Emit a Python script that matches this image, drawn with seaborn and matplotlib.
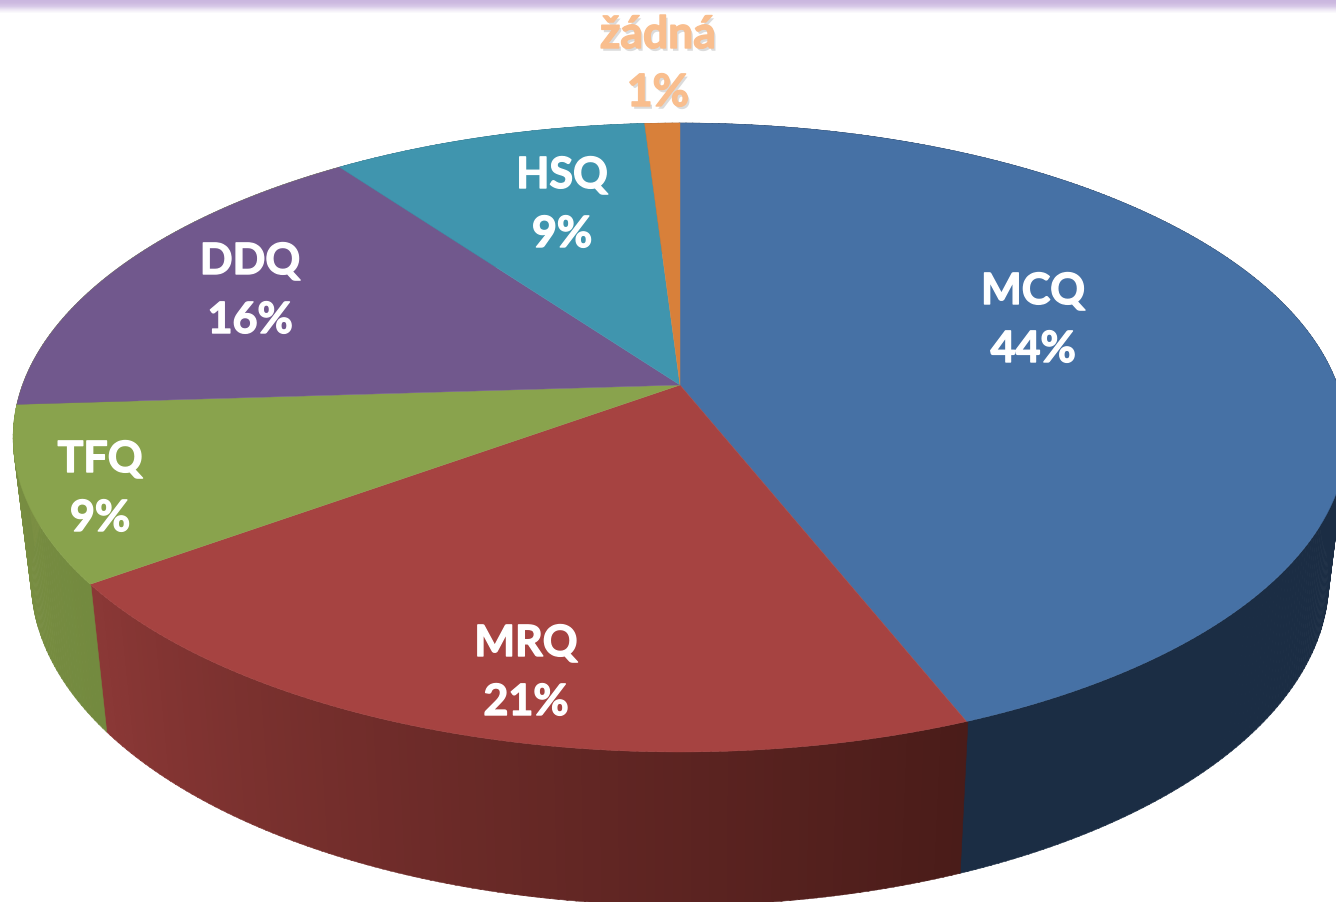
import numpy as np
import matplotlib
matplotlib.use("Agg")
import matplotlib.pyplot as plt
import matplotlib.patheffects as pe
from matplotlib.path import Path
from matplotlib.transforms import Transform, Affine2D
import seaborn as sns

# data
categories = ["MCQ", "MRQ", "TFQ", "DDQ", "HSQ", "žádná"]
values = [44, 21, 9, 16, 9, 1]

# styling
top_hex = ["#4671A5", "#A64341", "#89A34D", "#71588D", "#4095AE", "#D8803A"]
side_left_hex = ["#1B2D44", "#8B3836", "#7B8F43", "#7B8F43", "#2A6274", "#8E5426"]
side_right_hex = ["#1B2D44", "#4A1C19", "#738A3F", "#7B8F43", "#2A6274", "#8E5426"]
label_pos = [(1033, 289, 347), (526, 641, 700), (100, 457, 516),
             (250, 259, 318), (562, 173, 232), (658, 33, 91)]
FONT = "Lato"
FS = 31

sns.set_theme(style="white")
plt.rcParams["font.family"] = [FONT, "DejaVu Sans"]

W, H = 1336, 903
CX, CY = 680.0, 386.0
A, B, K = 657.5, 305.7, 0.167
SX, SY, CY2 = 0.973, 1.036, 526.0


def project(u, v, sx=1.0, sy=1.0, cy=CY):
    d = 1 + K * v
    return CX + sx * A * u / d, cy - sy * B * v / d


class Perspective(Transform):
    input_dims = output_dims = 2
    is_separable = False
    has_inverse = False

    def transform_non_affine(self, xy):
        xy = np.asarray(xy, float)
        x, y = project(xy[:, 0], xy[:, 1])
        return np.column_stack([x, y])

    def transform_path_non_affine(self, path):
        polys = path.to_polygons(Affine2D().scale(3000), closed_only=True)
        pts = np.vstack(polys) / 3000
        return Path(self.transform_non_affine(pts), closed=True)


fig = plt.figure(figsize=(W / 100, H / 100), dpi=100, facecolor="white")
ax = fig.add_axes([0, 0, 1, 1])

wedges, _ = ax.pie(values, startangle=90, counterclock=False, radius=1,
                   colors=sns.color_palette(top_hex), normalize=True)
ax.set_aspect("auto")
ax.set_xlim(0, W)
ax.set_ylim(H, 0)
ax.axis("off")

# band at the top edge
band = sns.blend_palette(["#C9B5DE", "#CDBAE0", "#D8CAE8", "#EFE9F5", "#FFFFFF"], 15)
for i, c in enumerate(band):
    ax.axhspan(i, i + 1, color=c, lw=0, zorder=0.5)

# side wall, drawn in thin strips between the rim of the top and bottom faces
for w, cl, cr in zip(wedges, side_left_hex, side_right_hex):
    a0, a1 = np.deg2rad(w.theta1), np.deg2rad(w.theta2)
    n = max(2, int(abs(w.theta2 - w.theta1) * 1.5))
    edges = np.linspace(a0, a1, n + 1)
    pal = sns.blend_palette([cl, cr], n)
    for j in range(n):
        t = np.linspace(edges[j], edges[j + 1] + 0.002, 4)
        u, v = np.cos(t), np.sin(t)
        xt, yt = project(u, v)
        xb, yb = project(u, v, SX, SY, CY2)
        ax.fill(np.r_[xt, xb[::-1]], np.r_[yt, yb[::-1]], color=pal[j], lw=0.4, zorder=1)

# top face: the pie wedges in perspective
persp = Perspective()
for w, c in zip(wedges, top_hex):
    w.set_transform(persp + ax.transData)
    w.set_facecolor(c)
    w.set_edgecolor(c)
    w.set_linewidth(0.3)
    w.set_zorder(2)
    w.set_clip_on(False)

# labels
for name, val, (x, y1, y2) in zip(categories, values, label_pos):
    outside = val < 5
    col = "#F9BE8E" if outside else "white"
    for txt, y in ((name, y1), (f"{val}%", y2)):
        t = ax.text(x, y + 3, txt, ha="center", va="center", fontsize=FS + (1 if outside else 0),
                    fontweight="bold", color=col, zorder=3)
        effects = [pe.withStroke(linewidth=1.0, foreground=col)]
        if outside:
            effects = [pe.SimplePatchShadow(offset=(1.5, -2), shadow_rgbFace="#888888", alpha=0.3),
                       pe.withStroke(linewidth=1.0, foreground=col)]
        t.set_path_effects(effects)

fig.savefig("out.png", dpi=100, facecolor="white")
